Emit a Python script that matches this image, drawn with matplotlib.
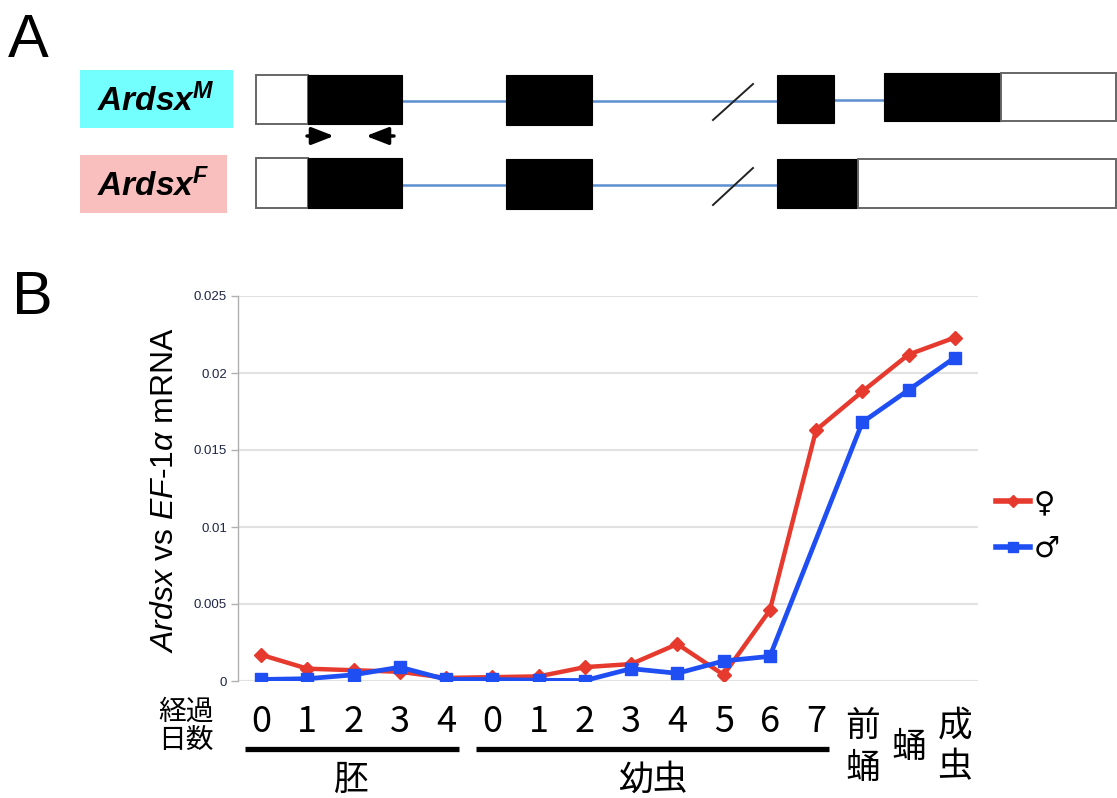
import numpy as np
import matplotlib
matplotlib.use("Agg")
import matplotlib.pyplot as plt
from matplotlib.patches import Rectangle
from matplotlib.lines import Line2D
from matplotlib.transforms import blended_transform_factory
from matplotlib.ticker import FormatStrFormatter

plt.rcParams['font.family'] = ['Liberation Sans', 'DejaVu Sans']
plt.rcParams['mathtext.fontset'] = 'custom'
plt.rcParams['mathtext.it'] = 'Liberation Sans:italic'
plt.rcParams['mathtext.rm'] = 'Liberation Sans'
plt.rcParams['mathtext.bf'] = 'Liberation Sans:bold:italic'

# ---------------- data ----------------
stage_labels = ['0', '1', '2', '3', '4', '0', '1', '2', '3', '4', '5', '6', '7',
                '前蛹', '蛹', '成虫']
female = [0.0017, 0.0008, 0.0007, 0.0006, 0.0002, 0.00025, 0.0003, 0.0009,
          0.0011, 0.0024, 0.0004, 0.0046, 0.0163, 0.0188, 0.0212, 0.0223]
male = [0.0001, 0.00015, 0.0004, 0.0009, 0.0001, 0.0001, 0.00005, 0.00003,
        0.0008, 0.0005, 0.0013, 0.0016, None, 0.0168, 0.0189, 0.0210]
y_ticks = [0, 0.005, 0.01, 0.015, 0.02, 0.025]
series_names = ['♀', '♂']
group_names = ['胚', '幼虫']

RED = '#e63a2e'
BLUE = '#1f4ef2'

W, H = 1117, 798
fig = plt.figure(figsize=(W / 100, H / 100), dpi=100)

# overlay axes in pixel coordinates (for panel A and annotations)
axA = fig.add_axes([0, 0, 1, 1])
axA.set_xlim(0, W)
axA.set_ylim(H, 0)
axA.axis('off')

# ---------------- panel A ----------------
axA.text(8, 13, 'A', fontsize=44, va='top', ha='left', family='Liberation Sans')
axA.text(12, 270, 'B', fontsize=44, va='top', ha='left', family='Liberation Sans')

axA.add_patch(Rectangle((80, 70), 153, 58, color='#74ffff', lw=0))
axA.add_patch(Rectangle((80, 155), 147, 58, color='#f9bfbf', lw=0))
axA.text(156, 101, r'$\mathbf{Ardsx^{M}}$', fontsize=24, ha='center', va='center')
axA.text(153, 186, r'$\mathbf{Ardsx^{F}}$', fontsize=24, ha='center', va='center')

INTRON = '#5b8fd0'
def box(x0, x1, y0, y1, fill):
    if fill == 'w':
        axA.add_patch(Rectangle((x0, y0), x1 - x0, y1 - y0, facecolor='white',
                                edgecolor='#666666', lw=1.4, zorder=3))
    else:
        axA.add_patch(Rectangle((x0, y0), x1 - x0, y1 - y0, facecolor='black',
                                edgecolor='black', lw=0.8, zorder=3))

def intron(x0, x1, y):
    axA.plot([x0, x1], [y, y], color=INTRON, lw=1.8, zorder=2, solid_capstyle='butt')

# row M
intron(402, 506, 100.5)
intron(592, 777, 100.5)
intron(834, 884, 100)
box(256, 308, 75, 124, 'w')
box(308, 402, 75, 124, 'k')
box(506, 592, 75, 125, 'k')
box(777, 834, 75, 123, 'k')
box(884, 1001, 73, 121, 'k')
box(1001, 1116, 73, 121, 'w')
axA.plot([713, 753], [120, 84], color='#222222', lw=1.4, zorder=4)
# primer arrows
axA.annotate('', xy=(334, 136), xytext=(307, 136),
             arrowprops=dict(arrowstyle='-|>,head_length=0.9,head_width=0.35',
                             lw=2.5, color='black', mutation_scale=15,
                             shrinkA=0, shrinkB=0))
axA.annotate('', xy=(366, 136), xytext=(394, 136),
             arrowprops=dict(arrowstyle='-|>,head_length=0.9,head_width=0.35',
                             lw=2.5, color='black', mutation_scale=15,
                             shrinkA=0, shrinkB=0))
# row F
intron(402, 506, 185)
intron(592, 777, 185)
box(256, 308, 158, 208, 'w')
box(308, 402, 158, 208, 'k')
box(506, 592, 159, 209, 'k')
box(777, 858, 159, 208, 'k')
box(858, 1116, 159, 208, 'w')
axA.plot([713, 753], [205, 168], color='#222222', lw=1.4, zorder=4)

# ---------------- panel B ----------------
ax = fig.add_axes([238 / W, 1 - 681 / H, 740 / W, 385 / H])
x = np.arange(len(stage_labels))
f = np.array(female, dtype=float)
m = np.array([np.nan if v is None else v for v in male], dtype=float)
ok = ~np.isnan(m)

ax.plot(x, f, color=RED, lw=3.2, marker='D', ms=7.5, zorder=3)
ax.plot(x[ok], m[ok], color=BLUE, lw=3.4, marker='s', ms=9, zorder=4)

ax.set_xlim(-0.5, len(stage_labels) - 0.5)
ax.set_ylim(0, 0.025)
ax.set_yticks(y_ticks)
ax.yaxis.set_major_formatter(FormatStrFormatter('%g'))
ax.set_xticks([])
ax.yaxis.grid(True, color='#e2e2e2', lw=1.5)
ax.set_axisbelow(True)
for s in ['top', 'right', 'bottom']:
    ax.spines[s].set_visible(False)
ax.spines['left'].set_color('#b0b0b0')
ax.spines['left'].set_linewidth(1)
ax.tick_params(axis='y', length=5, width=1, color='#b0b0b0', labelsize=9.5,
               labelcolor='#1e2545', pad=3)
ax.set_ylabel(r'$\mathit{Ardsx}$ vs $\mathit{EF}$-$\mathit{1\alpha}$ mRNA', fontsize=23)
ax.yaxis.set_label_coords(-0.078, 0.496)

# legend
handles = [Line2D([], [], color=RED, lw=4, marker='D', ms=6),
           Line2D([], [], color=BLUE, lw=4, marker='s', ms=6.5)]
ax.legend(handles, series_names, loc='center left',
          bbox_to_anchor=(996 / W, 1 - 526 / H), bbox_transform=fig.transFigure,
          frameon=False, prop={'family': 'DejaVu Sans', 'size': 21},
          handlelength=1.15, handletextpad=0.15, labelspacing=0.62,
          borderpad=0, borderaxespad=0)

# category labels under the axis
tr = blended_transform_factory(ax.transData, axA.transData)
CJK = ['Noto Sans CJK JP', 'DejaVu Sans']
for xi, lab in zip(x, stage_labels):
    if len(lab) == 1 and lab.isdigit():
        axA.text(xi, 722, lab, transform=tr, ha='center', va='center',
                 fontsize=26, family=CJK)
    elif len(lab) == 2:
        axA.text(xi, 726, lab[0], transform=tr, ha='center', va='center',
                 fontsize=25, family=CJK)
        axA.text(xi, 768, lab[1], transform=tr, ha='center', va='center',
                 fontsize=25, family=CJK)
    else:
        axA.text(xi, 747, lab, transform=tr, ha='center', va='center',
                 fontsize=25, family=CJK)

axA.text(186, 712, '経過', ha='center', va='center', fontsize=20, family=CJK)
axA.text(186, 740, '日数', ha='center', va='center', fontsize=20, family=CJK)

# group bars
embryo_idx = [i for i in range(5)]
larva_idx = [i for i in range(5, 13)]
for idx, name in zip([embryo_idx, larva_idx], group_names):
    x0, x1 = idx[0] - 0.35, idx[-1] + 0.27
    axA.plot([x0, x1], [749, 749], transform=tr, color='black', lw=3.8,
             solid_capstyle='butt')
    axA.text((x0 + x1) / 2, 780, name, transform=tr, ha='center', va='center',
             fontsize=25, family=CJK)

fig.savefig('out.png', dpi=100)
